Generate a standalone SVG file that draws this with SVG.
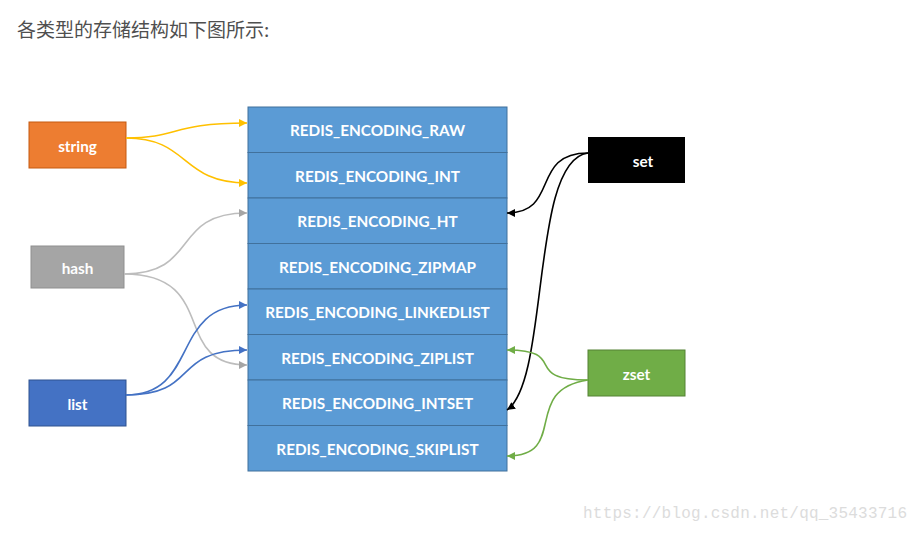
<svg xmlns="http://www.w3.org/2000/svg" width="924" height="533" viewBox="0 0 924 533">
<defs>
<style>
.lbl{font-family:Lato,"Open Sans","Liberation Sans",sans-serif;font-size:15.3px;font-weight:bold;fill:#fff;text-anchor:middle;dominant-baseline:central}
.row{fill:#5B9BD5;stroke:#41719C;stroke-width:1}
.c{fill:none;stroke-width:1.6}
</style>
<marker id="aY" viewBox="0 0 10 10" refX="10" refY="5" markerWidth="8" markerHeight="8" markerUnits="userSpaceOnUse" orient="auto"><path d="M0,0L10,5L0,10z" fill="#FFC000"/></marker>
<marker id="aG" viewBox="0 0 10 10" refX="10" refY="5" markerWidth="8" markerHeight="8" markerUnits="userSpaceOnUse" orient="auto"><path d="M0,0L10,5L0,10z" fill="#A5A5A5"/></marker>
<marker id="aB" viewBox="0 0 10 10" refX="10" refY="5" markerWidth="8" markerHeight="8" markerUnits="userSpaceOnUse" orient="auto"><path d="M0,0L10,5L0,10z" fill="#4472C4"/></marker>
<marker id="aK" viewBox="0 0 10 10" refX="10" refY="5" markerWidth="8" markerHeight="8" markerUnits="userSpaceOnUse" orient="auto"><path d="M0,0L10,5L0,10z" fill="#000"/></marker>
<marker id="aN" viewBox="0 0 10 10" refX="10" refY="5" markerWidth="8" markerHeight="8" markerUnits="userSpaceOnUse" orient="auto"><path d="M0,0L10,5L0,10z" fill="#70AD47"/></marker>
</defs>
<rect width="924" height="533" fill="#fff"/>
<text x="17" y="37" style="font-family:'Noto Sans CJK SC','Noto Sans',sans-serif;font-size:19px;fill:#4f4f4f">各类型的存储结构如下图所示:</text>

<g id="encodings">
<rect class="row" x="248" y="107" width="259" height="45.5"/>
<text class="lbl" x="377.5" y="130">REDIS_ENCODING_RAW</text>
<rect class="row" x="248" y="152.5" width="259" height="45.5"/>
<text class="lbl" x="377.5" y="175.5">REDIS_ENCODING_INT</text>
<rect class="row" x="248" y="198" width="259" height="45.5"/>
<text class="lbl" x="377.5" y="221">REDIS_ENCODING_HT</text>
<rect class="row" x="248" y="243.5" width="259" height="45.5"/>
<text class="lbl" x="377.5" y="266.5">REDIS_ENCODING_ZIPMAP</text>
<rect class="row" x="248" y="289" width="259" height="45.5"/>
<text class="lbl" x="377.5" y="312">REDIS_ENCODING_LINKEDLIST</text>
<rect class="row" x="248" y="334.5" width="259" height="45.5"/>
<text class="lbl" x="377.5" y="357.5">REDIS_ENCODING_ZIPLIST</text>
<rect class="row" x="248" y="380" width="259" height="45.5"/>
<text class="lbl" x="377.5" y="403">REDIS_ENCODING_INTSET</text>
<rect class="row" x="248" y="425.5" width="259" height="45.5"/>
<text class="lbl" x="377.5" y="448.5">REDIS_ENCODING_SKIPLIST</text>
</g>

<g id="string"><rect x="29" y="122" width="97" height="46" fill="#ED7D31" stroke="#C55A11" stroke-width="1"/><text class="lbl" x="77.5" y="146">string</text></g>
<g id="hash"><rect x="31" y="246" width="93" height="42" fill="#A5A5A5" stroke="#8f8f8f" stroke-width="1"/><text class="lbl" x="77.5" y="267.5">hash</text></g>
<g id="list"><rect x="29" y="380" width="97" height="46" fill="#4472C4" stroke="#2F528F" stroke-width="1"/><text class="lbl" x="77.5" y="404">list</text></g>
<g id="set"><rect x="588" y="137" width="97" height="46" fill="#000"/><text class="lbl" x="643" y="161">set</text></g>
<g id="zset"><rect x="588" y="350" width="97" height="46" fill="#70AD47" stroke="#548235" stroke-width="1"/><text class="lbl" x="636.5" y="374">zset</text></g>

<g id="connectors">
<path class="c" stroke="#FFC000" d="M126,138 C180,138 170,123 247,123" marker-end="url(#aY)"/>
<path class="c" stroke="#FFC000" d="M126,138 C190,138 180,183 247,183" marker-end="url(#aY)"/>
<path class="c" stroke="#BDBDBD" d="M124,274 C200,274 170,213 247,213" marker-end="url(#aG)"/>
<path class="c" stroke="#BDBDBD" d="M124,274 C220,274 170,365 247,365" marker-end="url(#aG)"/>
<path class="c" stroke="#4472C4" d="M126,395 C200,395 170,305 247,305" marker-end="url(#aB)"/>
<path class="c" stroke="#4472C4" d="M126,395 C200,395 170,350 247,350" marker-end="url(#aB)"/>
<path class="c" stroke="#000" d="M588,153 C530,153 560,213 507,213" marker-end="url(#aK)"/>
<path class="c" stroke="#000" d="M588,153 C530,160 550,380 507,410" marker-end="url(#aK)"/>
<path class="c" stroke="#70AD47" d="M588,380 C520,380 570,350 507,350" marker-end="url(#aN)"/>
<path class="c" stroke="#70AD47" d="M588,380 C520,390 570,456 507,456" marker-end="url(#aN)"/>
</g>

<text x="583" y="518" style="font-family:'Liberation Mono',monospace;font-size:16px;fill:#dcdcdc" textLength="324">https://blog.csdn.net/qq_35433716</text>
</svg>
